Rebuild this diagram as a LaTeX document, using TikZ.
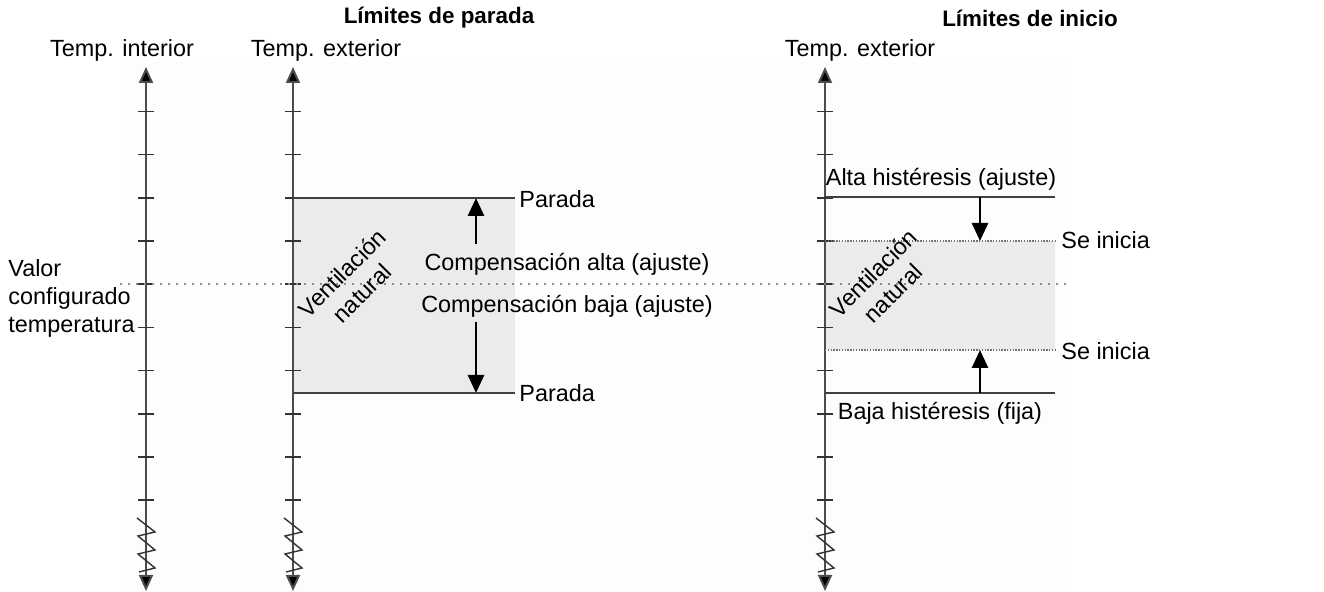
\documentclass[tikz,border=0pt]{standalone}
\usepackage{fontspec}
\setmainfont{Liberation Sans}
\usetikzlibrary{positioning, arrows.meta, calc}
\tikzset{
    axis/.style={
        line width=1pt,
        draw=black!70,
        {Triangle[length=8pt,width=7pt,fill=black]}-{Triangle[length=8pt,width=7pt,fill=black]}
    },
    tick/.style={
        line width=0.8pt,
        draw=black!80
    },
    limit/.style={
        line width=0.8pt,
        draw=black!75
    },
    startlimit/.style={
        line width=0.9pt,
        draw=black!55,
        dash pattern=on 0.7pt off 0.7pt
    },
    setpoint/.style={
        line width=0.8pt,
        draw=black!45,
        dash pattern=on 0.8pt off 3.2pt
    },
    vec/.style={
        line width=1.4pt,
        -{Triangle[length=9pt,width=8pt]}
    },
    lbl/.style={
        font=\fontsize{11.7}{14}\selectfont,
        inner sep=1pt
    },
    title/.style={
        font=\fontsize{11.2}{14}\selectfont\bfseries,
        inner sep=1pt
    },
    zone/.style={
        fill=black!8
    }
}

\begin{document}
\begin{tikzpicture}[x=0.5pt, y=-0.5pt]

\useasboundingbox (0,0) rectangle (1324,592);
\fill[black!0.8] (120,62) rectangle (1065,592);

%---------------- Titles ----------------

\node[title] (stoptitle) at (439,18) {Límites de parada};
\node[title] (starttitle) at (1030,18) {Límites de inicio};

\node[lbl] (inlabel) at (122,50) {Temp. interior};
\node[lbl] (outlabel1) at (326,50) {Temp. exterior};
\node[lbl] (outlabel2) at (860,50) {Temp. exterior};

%---------------- Axes ----------------

\foreach \ax/\xa in {in/146, outA/293, outB/825} {
    \coordinate (\ax-top) at (\xa,67);
    \coordinate (\ax-bot) at (\xa,591);
}

% shaded zones first, so the axes lie over them
\fill[zone] (293,198) rectangle (515,393);
\fill[zone] (825,241) rectangle (1055,350);

\foreach \ax in {in, outA, outB} {
    \draw[axis] (\ax-bot) -- (\ax-top);
}

\foreach \xa in {146, 293, 825} {
    \foreach \k in {0,...,9} {
        \draw[tick] (\xa-8, 111.5+43.2*\k) -- ++(16,0);
    }
    \draw[tick, line width=0.7pt] (\xa-9,518) -- (\xa+9,532) -- (\xa-8,536) -- (\xa+9,550)
        -- (\xa-8,554) -- (\xa+9,568) -- (\xa-7,572);
}

%---------------- Set point ----------------

\coordinate (sp-left) at (120,284);
\coordinate (sp-right) at (1066,284);
\draw[setpoint] (sp-left) -- (sp-right);

\node[lbl, align=left, anchor=west] (setlabel) at (6,298)
    {Valor\\configurado\\temperatura};

%---------------- Stop limits ----------------

\coordinate (stopH-a) at (293,198);
\coordinate (stopH-b) at (515,198);
\coordinate (stopL-a) at (293,393);
\coordinate (stopL-b) at (515,393);

\draw[limit] (stopH-a) -- (stopH-b);
\draw[limit] (stopL-a) -- (stopL-b);

\node[lbl, anchor=west] (stopH) at (517,199) {Parada};
\node[lbl, anchor=west] (stopL) at (517,393) {Parada};

\node[lbl] (compA) at (567,264) {Compensación alta (ajuste)};
\node[lbl] (compB) at (567,306) {Compensación baja (ajuste)};

\coordinate (upfrom) at (476,244);
\coordinate (upto) at (476,198);
\coordinate (downfrom) at (476,322);
\coordinate (downto) at (476,393);

\draw[vec] (upfrom) -- (upto);
\draw[vec] (downfrom) -- (downto);

\node[lbl, rotate=45, align=center] (ventA) at (352,283) {Ventilación\\natural};

%---------------- Start limits ----------------

\coordinate (hystH-a) at (825,197);
\coordinate (hystH-b) at (1055,197);
\coordinate (startH-a) at (825,241);
\coordinate (startH-b) at (1055,241);
\coordinate (startL-a) at (825,350);
\coordinate (startL-b) at (1055,350);
\coordinate (hystL-a) at (825,393);
\coordinate (hystL-b) at (1055,393);

\draw[limit] (hystH-a) -- (hystH-b);
\draw[startlimit] (startH-a) -- (startH-b);
\draw[startlimit] (startL-a) -- (startL-b);
\draw[limit] (hystL-a) -- (hystL-b);

\node[lbl] (hystA) at (941,179) {Alta histéresis (ajuste)};
\node[lbl] (hystB) at (940,413) {Baja histéresis (fija)};

\node[lbl, anchor=west] (startH) at (1059,240) {Se inicia};
\node[lbl, anchor=west] (startL) at (1059,351) {Se inicia};

\draw[vec] (980,197) -- (startH-a -| 980,0);
\draw[vec] (hystL-a -| 980,0) -- (980,350);

\node[lbl, rotate=45, align=center] (ventB) at (883,283) {Ventilación\\natural};

\end{tikzpicture}
\end{document}
